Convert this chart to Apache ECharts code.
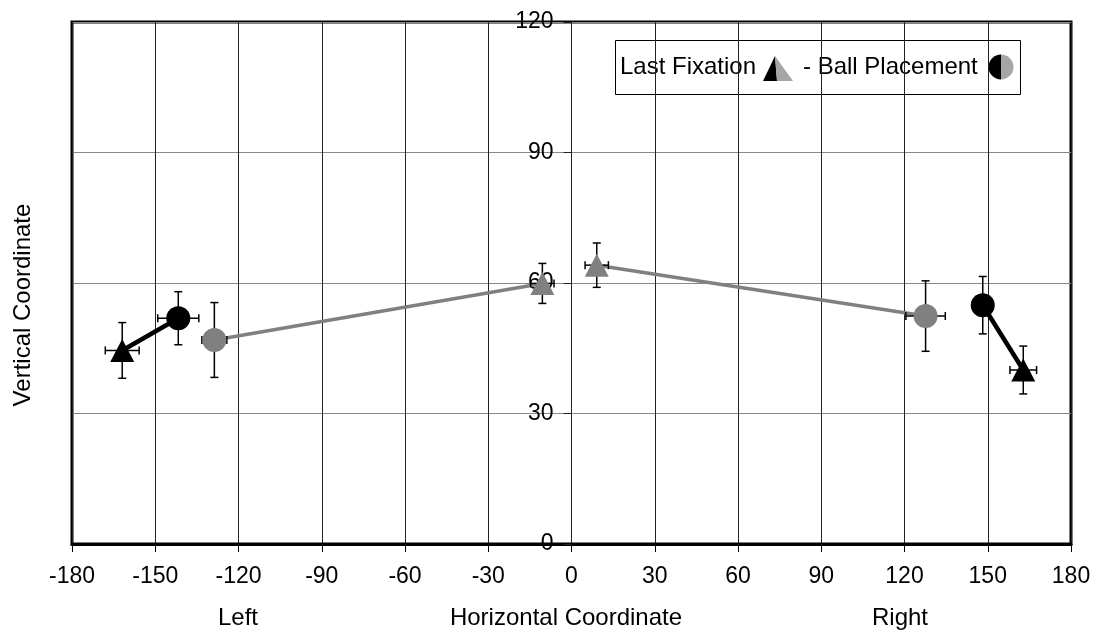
<!DOCTYPE html>
<html>
<head>
<meta charset="utf-8">
<script src="https://cdn.jsdelivr.net/npm/echarts@6/dist/echarts.min.js"></script>
<style>
  html, body { margin: 0; padding: 0; background: #fff; }
  #chart { width: 1096px; height: 631px; }
</style>
</head>
<body>
<div id="chart"></div>
<script>
// axis ticks
const xTicks = { min: -180, max: 180, step: 30 }
const yTicks = { min: 0, max: 120, step: 30 }

// [x, y] per side (left, right)
const blackFixation = [[-161.9, 44.5], [162.8, 40.0]]
const blackPlacement = [[-141.7, 51.9], [148.2, 54.9]]
const grayFixation = [[-10.5, 59.9], [9.1, 64.1]]
const grayPlacement = [[-128.7, 46.9], [127.6, 52.4]]

// [x error, y error]
const blackFixationErr = [[6.1, 6.4], [4.8, 5.5]]
const blackPlacementErr = [[7.4, 6.1], [3.0, 6.6]]
const grayFixationErr = [[4.2, 4.6], [4.2, 5.1]]
const grayPlacementErr = [[4.5, 8.6], [7.1, 8.1]]

const FONT = 'Liberation Sans, Arial, sans-serif'
const GRAY = '#808080'

// plot box (px)
const GRID = { left: 72, right: 25, top: 22, bottom: 87 }
const PLOT_W = 1096 - GRID.left - GRID.right

function withErr(pts, errs) {
  return pts.map((p, i) => [p[0], p[1], errs[i][0], errs[i][1]])
}

const errData = [].concat(
  withErr(blackFixation, blackFixationErr),
  withErr(blackPlacement, blackPlacementErr),
  withErr(grayFixation, grayFixationErr),
  withErr(grayPlacement, grayPlacementErr)
)

function renderErr(params, api) {
  const x = api.value(0), y = api.value(1), ex = api.value(2), ey = api.value(3)
  const top = api.coord([x, y + ey])
  const bot = api.coord([x, y - ey])
  const l = api.coord([x - ex, y])
  const r = api.coord([x + ex, y])
  const cap = 4
  const style = { stroke: '#000', lineWidth: 1.5 }
  const seg = (x1, y1, x2, y2) => ({ type: 'line', shape: { x1, y1, x2, y2 }, style })
  return {
    type: 'group',
    children: [
      seg(top[0], top[1], bot[0], bot[1]),
      seg(top[0] - cap, top[1], top[0] + cap, top[1]),
      seg(bot[0] - cap, bot[1], bot[0] + cap, bot[1]),
      seg(l[0], l[1], r[0], r[1]),
      seg(l[0], l[1] - cap, l[0], l[1] + cap),
      seg(r[0], r[1] - cap, r[0], r[1] + cap)
    ]
  }
}

function lineSeries(a, b, color, width) {
  return {
    type: 'line',
    data: [a, b],
    symbol: 'none',
    z: 3,
    lineStyle: { color: color, width: width },
    silent: true
  }
}

function markerSeries(data, symbol, size, color) {
  return {
    type: 'scatter',
    data: data,
    symbol: symbol,
    symbolSize: size,
    z: 5,
    itemStyle: { color: color, opacity: 1 }
  }
}

const chart = echarts.init(document.getElementById('chart'))

chart.setOption({
  animation: false,
  backgroundColor: '#fff',
  grid: {
    left: GRID.left, right: GRID.right, top: GRID.top, bottom: GRID.bottom,
    show: true, borderColor: '#000', borderWidth: 3,
    containLabel: false,
    outerBoundsMode: 'none'
  },
  xAxis: {
    type: 'value',
    min: xTicks.min, max: xTicks.max, interval: xTicks.step,
    axisLine: { show: true, onZero: false, lineStyle: { color: '#000', width: 3 } },
    axisTick: { show: true, length: 8, lineStyle: { color: '#000', width: 1 } },
    axisLabel: { margin: 21, color: '#000', fontSize: 23, fontFamily: FONT },
    splitLine: { show: true, lineStyle: { color: '#222', width: 1 } }
  },
  yAxis: {
    type: 'value',
    min: yTicks.min, max: yTicks.max, interval: yTicks.step,
    // sits on x = 0, in the middle of the plot
    offset: -PLOT_W / 2,
    axisLine: { show: true, onZero: false, lineStyle: { color: '#222', width: 1 } },
    axisTick: { show: true, length: 8, lineStyle: { color: '#222', width: 1 } },
    axisLabel: { margin: 18, color: '#000', fontSize: 23, fontFamily: FONT },
    splitLine: { show: true, lineStyle: { color: '#888', width: 1 } }
  },
  graphic: [
    {
      type: 'text', x: 23, y: 305, rotation: Math.PI / 2,
      style: { text: 'Vertical Coordinate', fill: '#000', font: '24px ' + FONT, align: 'center', verticalAlign: 'middle' }
    },
    {
      type: 'text', x: 238, y: 618,
      style: { text: 'Left', fill: '#000', font: '24px ' + FONT, align: 'center', verticalAlign: 'middle' }
    },
    {
      type: 'text', x: 566, y: 618,
      style: { text: 'Horizontal Coordinate', fill: '#000', font: '24px ' + FONT, align: 'center', verticalAlign: 'middle' }
    },
    {
      type: 'text', x: 900, y: 618,
      style: { text: 'Right', fill: '#000', font: '24px ' + FONT, align: 'center', verticalAlign: 'middle' }
    },
    {
      type: 'group', z: 100,
      children: [
        { type: 'rect', shape: { x: 615.5, y: 40.5, width: 405, height: 54 }, style: { fill: '#fff', stroke: '#000', lineWidth: 1 } },
        { type: 'text', style: { text: 'Last Fixation', x: 620, y: 67, fill: '#000', font: '24px ' + FONT, verticalAlign: 'middle' } },
        { type: 'polygon', shape: { points: [[763, 81], [775, 56], [777, 81]] }, style: { fill: '#000' } },
        { type: 'polygon', shape: { points: [[777, 81], [775, 56], [793, 81]] }, style: { fill: '#a6a6a6' } },
        { type: 'text', style: { text: '- Ball Placement', x: 803, y: 67, fill: '#000', font: '24px ' + FONT, verticalAlign: 'middle' } },
        { type: 'sector', shape: { cx: 1001, cy: 67, r: 12.5, startAngle: Math.PI / 2, endAngle: Math.PI * 1.5 }, style: { fill: '#000' } },
        { type: 'sector', shape: { cx: 1001, cy: 67, r: 12.5, startAngle: -Math.PI / 2, endAngle: Math.PI / 2 }, style: { fill: '#a6a6a6' } }
      ]
    }
  ],
  series: [
    {
      type: 'custom',
      renderItem: renderErr,
      data: errData,
      encode: { x: 0, y: 1 },
      z: 4,
      silent: true
    },
    lineSeries(blackFixation[0], blackPlacement[0], '#000', 4.5),
    lineSeries(blackPlacement[1], blackFixation[1], '#000', 4.5),
    lineSeries(grayPlacement[0], grayFixation[0], GRAY, 3.5),
    lineSeries(grayFixation[1], grayPlacement[1], GRAY, 3.5),
    markerSeries(blackFixation, 'triangle', [24, 23], '#000'),
    markerSeries(blackPlacement, 'circle', 24, '#000'),
    markerSeries(grayFixation, 'triangle', [24, 23], GRAY),
    markerSeries(grayPlacement, 'circle', 24, GRAY)
  ]
})
</script>
</body>
</html>
